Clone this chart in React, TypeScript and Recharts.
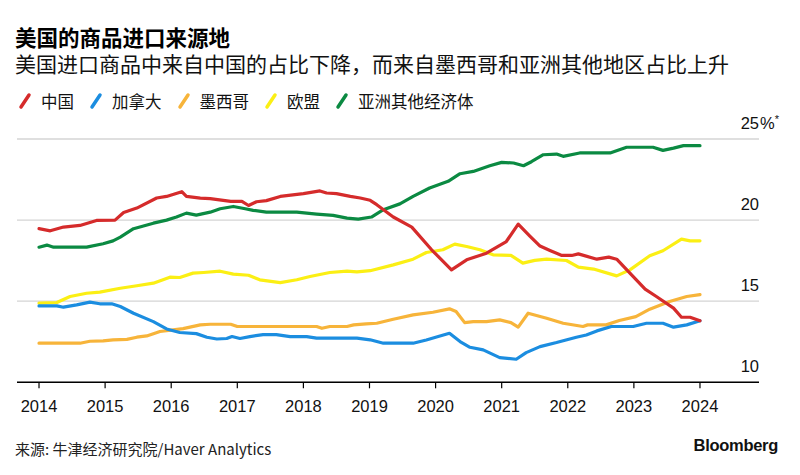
import React from "react";
import { LineChart, Line, XAxis, YAxis, CartesianGrid } from "recharts";

// [year, share of US goods imports %]
const china: [number, number][] = [
  [2014.0, 19.47], [2014.17, 19.34], [2014.37, 19.57], [2014.62, 19.67], [2014.87, 19.98],
  [2015.15, 20.0], [2015.28, 20.47], [2015.48, 20.74], [2015.78, 21.36], [2015.93, 21.46],
  [2016.16, 21.75], [2016.23, 21.46], [2016.44, 21.36], [2016.59, 21.32], [2016.9, 21.15],
  [2017.07, 21.15], [2017.17, 20.9], [2017.29, 21.13], [2017.44, 21.2], [2017.65, 21.46],
  [2018.0, 21.63], [2018.25, 21.8], [2018.35, 21.67], [2018.5, 21.63], [2018.71, 21.46],
  [2018.86, 21.36], [2019.01, 21.22], [2019.11, 20.95], [2019.36, 20.19], [2019.64, 19.57],
  [2019.94, 18.17], [2020.24, 16.93], [2020.47, 17.55], [2020.77, 17.96], [2021.07, 18.68],
  [2021.25, 19.75], [2021.43, 19.0], [2021.58, 18.4], [2021.73, 18.13], [2021.91, 17.82],
  [2022.06, 17.82], [2022.16, 17.92], [2022.44, 17.59], [2022.62, 17.72], [2022.74, 17.59],
  [2022.94, 16.73], [2023.17, 15.74], [2023.34, 15.29], [2023.6, 14.57], [2023.72, 14.01],
  [2023.85, 14.01], [2024.0, 13.79],
];

const canada: [number, number][] = [
  [2014.0, 14.71], [2014.27, 14.71], [2014.37, 14.63], [2014.57, 14.77], [2014.77, 14.94],
  [2014.92, 14.84], [2015.1, 14.84], [2015.23, 14.67], [2015.43, 14.26], [2015.73, 13.74],
  [2015.93, 13.29], [2016.13, 13.07], [2016.38, 13.0], [2016.54, 12.78], [2016.69, 12.67],
  [2016.84, 12.7], [2016.92, 12.82], [2017.04, 12.7], [2017.19, 12.82], [2017.39, 12.94],
  [2017.59, 12.94], [2017.8, 12.82], [2018.05, 12.82], [2018.2, 12.72], [2018.81, 12.72],
  [2019.01, 12.62], [2019.21, 12.41], [2019.66, 12.41], [2019.86, 12.61], [2020.04, 12.82],
  [2020.21, 13.02], [2020.37, 12.51], [2020.52, 12.16], [2020.72, 12.0], [2020.97, 11.52],
  [2021.22, 11.42], [2021.37, 11.83], [2021.58, 12.2], [2021.83, 12.45], [2022.13, 12.78],
  [2022.28, 12.92], [2022.44, 13.17], [2022.66, 13.44], [2022.99, 13.44], [2023.19, 13.64],
  [2023.44, 13.64], [2023.6, 13.4], [2023.8, 13.54], [2024.0, 13.79],
];

const mexico: [number, number][] = [
  [2014.0, 12.41], [2014.62, 12.41], [2014.77, 12.53], [2014.97, 12.55], [2015.12, 12.61],
  [2015.33, 12.65], [2015.48, 12.78], [2015.63, 12.86], [2015.83, 13.13], [2016.03, 13.23],
  [2016.18, 13.31], [2016.44, 13.54], [2016.59, 13.58], [2016.9, 13.58], [2017.0, 13.44],
  [2018.2, 13.44], [2018.28, 13.33], [2018.4, 13.44], [2018.66, 13.44], [2018.76, 13.54],
  [2018.95, 13.6], [2019.11, 13.64], [2019.36, 13.89], [2019.66, 14.16], [2019.96, 14.32],
  [2020.21, 14.53], [2020.31, 14.36], [2020.44, 13.68], [2020.57, 13.74], [2020.77, 13.74],
  [2020.97, 13.85], [2021.14, 13.68], [2021.25, 13.4], [2021.4, 14.26], [2021.68, 13.95],
  [2021.93, 13.64], [2022.23, 13.44], [2022.3, 13.54], [2022.58, 13.54], [2022.78, 13.81],
  [2023.03, 14.05], [2023.24, 14.51], [2023.54, 14.98], [2023.8, 15.29], [2024.0, 15.41],
];

const eu: [number, number][] = [
  [2014.0, 14.88], [2014.27, 14.92], [2014.47, 15.29], [2014.72, 15.49], [2014.92, 15.56],
  [2015.23, 15.8], [2015.48, 15.95], [2015.73, 16.11], [2015.98, 16.48], [2016.13, 16.46],
  [2016.33, 16.73], [2016.49, 16.77], [2016.74, 16.85], [2016.94, 16.67], [2017.17, 16.6],
  [2017.34, 16.32], [2017.65, 16.15], [2017.9, 16.32], [2018.1, 16.52], [2018.4, 16.77],
  [2018.66, 16.85], [2018.81, 16.81], [2019.01, 16.88], [2019.36, 17.24], [2019.66, 17.59],
  [2019.86, 18.0], [2020.11, 18.17], [2020.29, 18.52], [2020.47, 18.37], [2020.67, 18.17],
  [2020.87, 17.86], [2021.14, 17.82], [2021.32, 17.35], [2021.5, 17.52], [2021.68, 17.59],
  [2021.98, 17.51], [2022.16, 17.1], [2022.39, 16.98], [2022.74, 16.56], [2022.94, 16.93],
  [2023.24, 17.8], [2023.44, 18.11], [2023.72, 18.83], [2023.85, 18.72], [2024.0, 18.72],
];

const otherAsia: [number, number][] = [
  [2014.0, 18.33], [2014.12, 18.46], [2014.22, 18.33], [2014.72, 18.33], [2014.97, 18.54],
  [2015.12, 18.72], [2015.23, 18.95], [2015.43, 19.47], [2015.73, 19.81], [2015.93, 20.0],
  [2016.08, 20.19], [2016.23, 20.43], [2016.38, 20.31], [2016.59, 20.49], [2016.74, 20.7],
  [2016.94, 20.84], [2017.12, 20.7], [2017.24, 20.6], [2017.44, 20.49], [2017.9, 20.49],
  [2018.2, 20.37], [2018.45, 20.29], [2018.66, 20.12], [2018.83, 20.06], [2019.03, 20.19],
  [2019.21, 20.64], [2019.46, 21.0], [2019.66, 21.46], [2019.91, 21.98], [2020.19, 22.39],
  [2020.37, 22.86], [2020.57, 23.0], [2020.82, 23.35], [2021.0, 23.56], [2021.18, 23.52],
  [2021.33, 23.35], [2021.45, 23.6], [2021.63, 24.03], [2021.83, 24.07], [2021.93, 23.93],
  [2022.18, 24.14], [2022.64, 24.14], [2022.89, 24.49], [2023.29, 24.49], [2023.44, 24.3],
  [2023.6, 24.44], [2023.75, 24.59], [2024.0, 24.59],
];

const yearTicks = [2014, 2015, 2016, 2017, 2018, 2019, 2020, 2021, 2022, 2023, 2024];
const valueTicks = [10, 15, 20, 25];

const series = [
  { name: "欧盟", points: eu, color: "#fbef14" },
  { name: "墨西哥", points: mexico, color: "#f7b43a" },
  { name: "加拿大", points: canada, color: "#1b8de0" },
  { name: "亚洲其他经济体", points: otherAsia, color: "#0b8a42" },
  { name: "中国", points: china, color: "#d52b2b" },
];
const legendOrder = ["中国", "加拿大", "墨西哥", "欧盟", "亚洲其他经济体"];

const latin = '"Liberation Sans", "Noto Sans CJK SC", sans-serif';
const cjk = '"Noto Sans CJK SC", "Liberation Sans", sans-serif';

const YTick = (props: any) => {
  const { y, payload } = props;
  return (
    <g>
      <text x={759} y={y - 10.5} textAnchor="end" fontSize={16.5} fill="#111" fontFamily={latin}>
        {payload.value}
      </text>
      {payload.value === 25 && (
        <text x={760} y={y - 10.5} textAnchor="start" fontSize={16.5} fill="#111" fontFamily={latin}>
          %<tspan fontSize={11} dy={-6}>*</tspan>
        </text>
      )}
    </g>
  );
};

const Swatch = ({ color }: { color: string }) => (
  <svg width={16} height={18} style={{ display: "block" }}>
    <line x1={4} y1={15} x2={12} y2={3} stroke={color} strokeWidth={3.5} strokeLinecap="round" />
  </svg>
);

export default function App() {
  return (
    <div style={{ position: "absolute", left: 0, top: 0, width: 800, height: 475, background: "#fff" }}>
      <div style={{ position: "absolute", left: 15, top: 26, fontFamily: cjk, fontWeight: 700, fontSize: 21.5, lineHeight: "21px", color: "#000", whiteSpace: "nowrap" }}>
        美国的商品进口来源地
      </div>
      <div style={{ position: "absolute", left: 15, top: 53, fontFamily: cjk, fontSize: 21, lineHeight: "20px", color: "#111", whiteSpace: "nowrap" }}>
        美国进口商品中来自中国的占比下降，而来自墨西哥和亚洲其他地区占比上升
      </div>
      <div style={{ position: "absolute", left: 17, top: 92, display: "flex", alignItems: "center", fontFamily: cjk, fontSize: 16.5, lineHeight: "18px", color: "#111" }}>
        {legendOrder.map((name) => {
          const s = series.find((d) => d.name === name)!;
          return (
            <div key={name} style={{ display: "flex", alignItems: "center", marginRight: 14 }}>
              <Swatch color={s.color} />
              <span style={{ marginLeft: 8 }}>{name}</span>
            </div>
          );
        })}
      </div>
      <div style={{ position: "absolute", left: 0, top: 0 }}>
        <LineChart width={800} height={475} margin={{ top: 139, right: 0, left: 17, bottom: 0 }}>
          <CartesianGrid vertical={false} stroke="#d4d4d4" strokeWidth={1.3} />
          <XAxis
            dataKey="x"
            type="number"
            domain={[2013.667, 2024.893]}
            ticks={yearTicks}
            height={92.7}
            axisLine={{ stroke: "#000", strokeWidth: 1.5 }}
            tickLine={{ stroke: "#000", strokeWidth: 1.2 }}
            tickSize={6}
            tickMargin={12}
            tick={{ fontSize: 16.5, fill: "#111", fontFamily: latin }}
            allowDataOverflow
          />
          <YAxis
            orientation="right"
            type="number"
            domain={[10, 25]}
            ticks={valueTicks}
            width={41}
            axisLine={false}
            tickLine={false}
            tick={<YTick />}
            allowDataOverflow
          />
          {series.map((s) => (
            <Line
              key={s.name}
              data={s.points.map(([x, v]) => ({ x, v }))}
              dataKey="v"
              type="linear"
              stroke={s.color}
              strokeWidth={3.2}
              strokeLinejoin="round"
              strokeLinecap="round"
              dot={false}
              activeDot={false}
              isAnimationActive={false}
            />
          ))}
        </LineChart>
      </div>
      <div style={{ position: "absolute", left: 15, top: 440, fontFamily: cjk, fontSize: 15, lineHeight: "18px", color: "#222" }}>
        来源: 牛津经济研究院/Haver Analytics
      </div>
      <div style={{ position: "absolute", right: 22, top: 436, fontFamily: latin, fontWeight: 700, fontSize: 16.5, lineHeight: "18px", color: "#111", letterSpacing: -0.3 }}>
        Bloomberg
      </div>
    </div>
  );
}
